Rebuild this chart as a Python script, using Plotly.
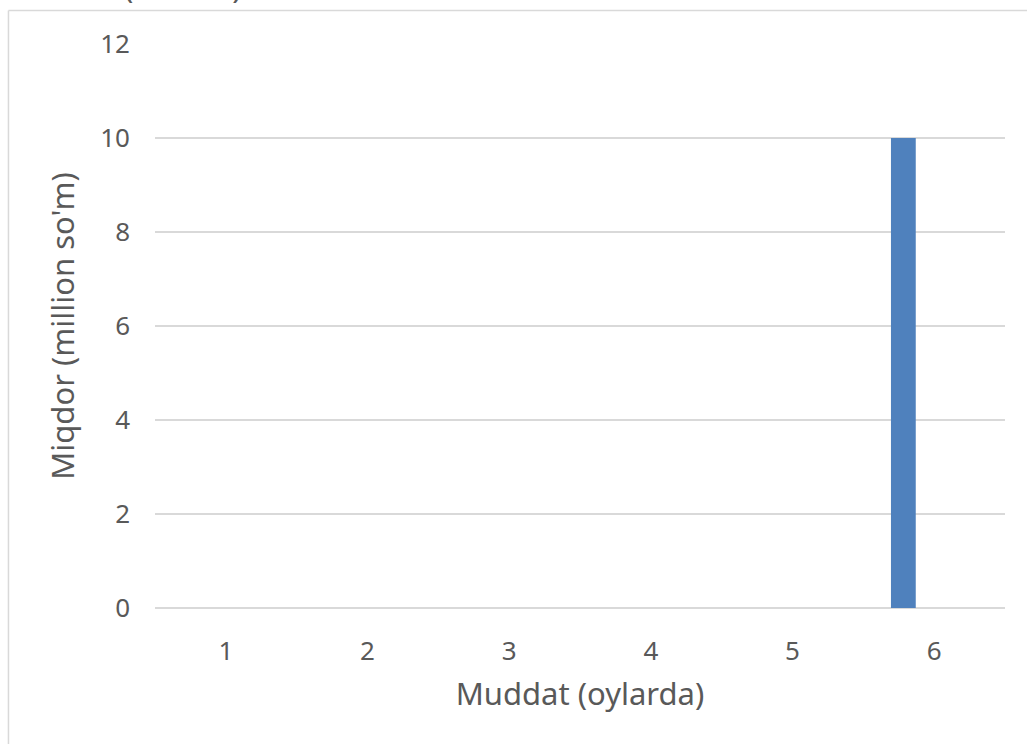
import plotly.graph_objects as go

# Loan term (months) and amount (million so'm)
months = ["1", "2", "3", "4", "5", "6"]
amounts = [0, 0, 0, 0, 0, 10]
y_ticks = [0, 2, 4, 6, 8, 10, 12]

x_title = "Muddat (oylarda)"
y_title = "Miqdor (million so'm)"
top_caption = "(million)"

FONT = "Noto Sans"
GREY_TEXT = "#595959"
GRID = "#d9d9d9"

fig = go.Figure(
    go.Bar(
        x=months,
        y=amounts,
        marker=dict(color="#4f81bd", line=dict(width=0)),
        width=0.175,
        offset=-0.305,
        hoverinfo="x+y",
    )
)

fig.update_layout(
    width=1027,
    height=744,
    margin=dict(l=155, r=22, t=44, b=136),
    paper_bgcolor="white",
    plot_bgcolor="white",
    showlegend=False,
    font=dict(family=FONT, color=GREY_TEXT, size=26),
    xaxis=dict(
        type="category",
        showgrid=False,
        showline=False,
        ticks="",
        tickfont=dict(size=26, color=GREY_TEXT),
        ticklabelstandoff=25,
        title=dict(text=x_title, font=dict(size=31, color=GREY_TEXT), standoff=16),
    ),
    yaxis=dict(
        range=[0, 12],
        tickvals=y_ticks,
        showgrid=True,
        gridcolor=GRID,
        gridwidth=1.5,
        zeroline=True,
        zerolinecolor=GRID,
        zerolinewidth=1.5,
        showline=False,
        ticks="",
        tickfont=dict(size=26, color=GREY_TEXT),
        ticklabelstandoff=24,
        title=dict(text=y_title, font=dict(size=31, color=GREY_TEXT), standoff=16),
    ),
    shapes=[
        # chart-area frame (top and left edges)
        dict(type="line", xref="paper", yref="paper",
             x0=-0.1724, x1=1.1, y0=1.0594, y1=1.0594,
             line=dict(color=GRID, width=1.5)),
        dict(type="line", xref="paper", yref="paper",
             x0=-0.1724, x1=-0.1724, y0=1.0594, y1=-0.3,
             line=dict(color=GRID, width=1.5)),
    ],
    annotations=[
        dict(text=top_caption, xref="paper", yref="paper",
             x=-0.0383, y=1.062, xanchor="left", yanchor="bottom",
             showarrow=False, font=dict(size=31, color=GREY_TEXT)),
    ],
)

fig.write_html("out.html")
